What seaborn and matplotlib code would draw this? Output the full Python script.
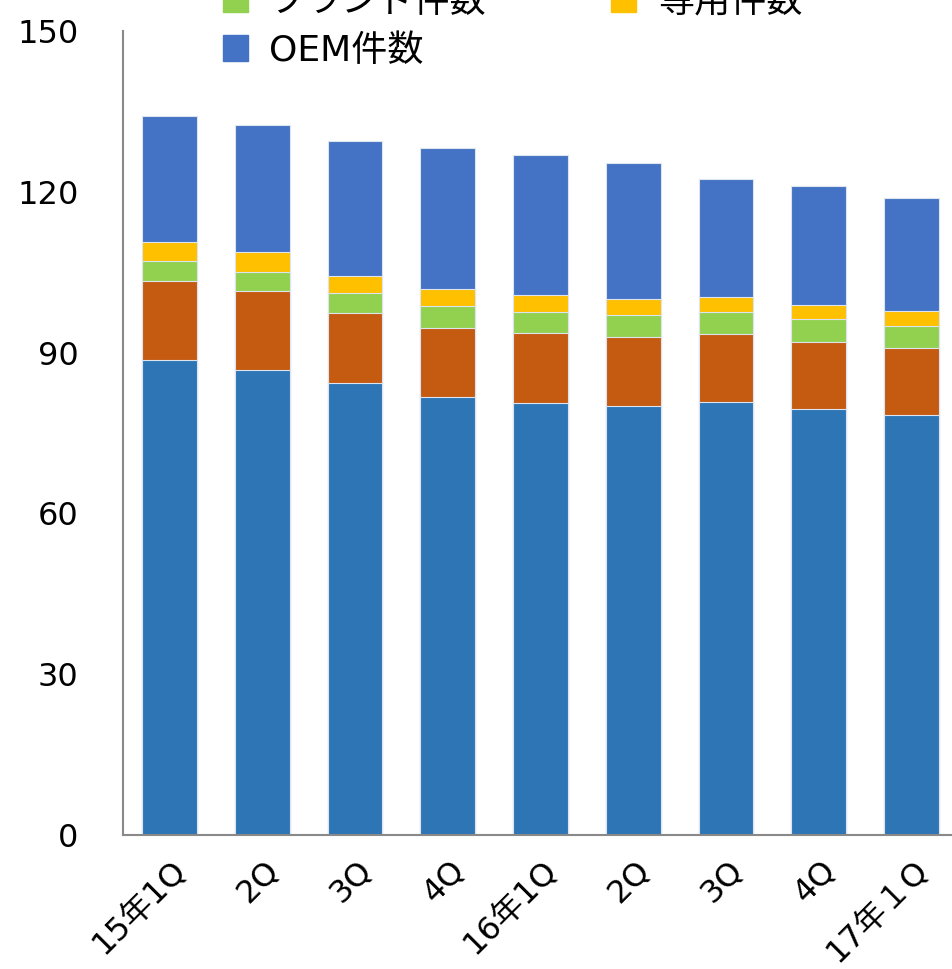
import numpy as np
import pandas as pd
import seaborn as sns
import matplotlib.pyplot as plt
import matplotlib.transforms as mtransforms
from matplotlib.patches import Patch

quarters = ["15年1Q", "2Q", "3Q", "4Q", "16年1Q", "2Q", "3Q", "4Q", "17年１Q"]
# segments bottom -> top
base_cnt = [88.7, 86.7, 84.4, 81.7, 80.6, 80.0, 80.7, 79.4, 78.3]
second_cnt = [14.7, 14.7, 12.9, 12.9, 13.1, 13.0, 12.8, 12.6, 12.5]
brand_cnt = [3.6, 3.7, 3.9, 4.1, 3.9, 4.1, 4.0, 4.2, 4.2]
senyo_cnt = [3.6, 3.7, 3.1, 3.2, 3.2, 2.9, 2.8, 2.7, 2.7]
oem_cnt = [23.5, 23.7, 25.2, 26.3, 26.0, 25.3, 22.1, 22.1, 21.2]

labels = ["一般件数", "再販件数", "ブランド件数", "専用件数", "OEM件数"]
colors = ["#2E75B6", "#C55A11", "#92D050", "#FFC000", "#4472C4"]

sns.set_style("white")
plt.rcParams['font.family'] = ['DejaVu Sans', 'Noto Sans CJK JP']
plt.rcParams['text.color'] = 'black'
plt.rcParams['xtick.color'] = 'black'
plt.rcParams['ytick.color'] = 'black'

df = pd.DataFrame({"pos": range(len(quarters)), "a": base_cnt, "b": second_cnt,
                   "c": brand_cnt, "d": senyo_cnt, "e": oem_cnt})
cum = df[["a", "b", "c", "d", "e"]].cumsum(axis=1)

fig = plt.figure(figsize=(9.53, 9.69), dpi=100)
ax = fig.add_axes([123 / 953, 1 - 835 / 969, 835 / 953, 804 / 969])

# draw stacked bars as overlapping cumulative layers, tallest first
for col, c in zip(["e", "d", "c", "b", "a"], colors[::-1]):
    sns.barplot(x=df["pos"], y=cum[col], color=c, saturation=1, width=0.59,
                edgecolor="#dce4f0", linewidth=0.8, ax=ax)

ax.set_ylim(0, 150)
ax.set_xlim(-0.5, len(quarters) - 0.5)
ax.set_yticks([0, 30, 60, 90, 120, 150])
ax.set_xlabel("")
ax.set_ylabel("")
ax.tick_params(axis="y", direction="in", length=8, width=1.3, color="#898989",
               labelsize=23, pad=32)
ax.set_xticks(np.arange(len(quarters)))
ax.set_xticklabels(quarters, rotation=45, ha="right", rotation_mode="anchor", fontsize=23)
ax.tick_params(axis="x", length=0, pad=14)
ax.set_xticks(np.arange(len(quarters) + 1) - 0.5, minor=True)
ax.tick_params(axis="x", which="minor", direction="in", length=8, width=1.3, color="#898989")
offset = mtransforms.ScaledTranslation(1 / 72, 0, fig.dpi_scale_trans)
for lab in ax.get_xticklabels():
    lab.set_transform(lab.get_transform() + offset)

for s in ["top", "right"]:
    ax.spines[s].set_visible(False)
for s in ["left", "bottom"]:
    ax.spines[s].set_color("#898989")
    ax.spines[s].set_linewidth(1.5)

handles = [Patch(color=colors[0]), Patch(color=colors[2]), Patch(color=colors[4]),
           Patch(color=colors[1]), Patch(color=colors[3])]
hlabels = [labels[0], labels[2], labels[4], labels[1], labels[3]]
fig.legend(handles, hlabels, ncol=2, loc="lower left",
           bbox_to_anchor=(190 / 953, 1 - 100 / 969), fontsize=26, frameon=False,
           handlelength=0.7, handleheight=0.7, handletextpad=0.6,
           columnspacing=3.45, labelspacing=0.4)

fig.savefig("out.png", dpi=100)
